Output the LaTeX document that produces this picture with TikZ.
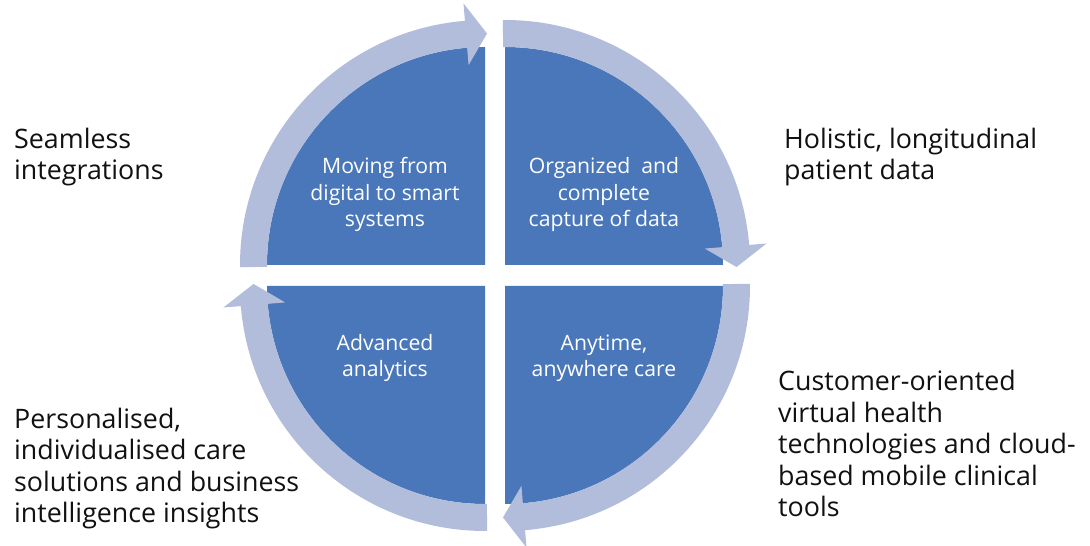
\documentclass[tikz,border=0pt]{standalone}
\usepackage{fontspec}
\setmainfont{Open Sans}
\usetikzlibrary{calc}
\definecolor{quadc}{HTML}{4A77BA}
\definecolor{ringc}{HTML}{B1BDDA}
\definecolor{txtc}{HTML}{111111}
\newcommand\ringarrow[2]{%
  \fill[ringc] ($(#1)+(#2+0.5:245)$) arc[start angle=#2+0.5, end angle=#2-85.3, radius=245]
    -- ($(#1)+(#2-85.3:262.5)$) -- ($(#1)+(#2-90.5:231.5)$) -- ($(#1)+(#2-85.3:200.5)$)
    -- ($(#1)+(#2-85.3:218)$) arc[start angle=#2-85.3, end angle=#2+0.5, radius=218] -- cycle;}
\begin{document}
\begin{tikzpicture}[x=1pt,y=1pt,
  outer/.style={inner sep=0pt, anchor=base west, align=left, text=txtc,
    font={\fontsize{26.8}{31.5}\selectfont}},
  inner/.style={inner sep=0pt, anchor=base, align=center, text=white,
    font={\fontsize{21.2}{26.5}\selectfont}}]
\useasboundingbox (0,0) rectangle (1090,546);
\fill[white] (0,0) rectangle (1090,546);
\coordinate (tl) at (485,281);
\coordinate (tr) at (505,281);
\coordinate (bl) at (485,260);
\coordinate (br) at (505,260);
% quadrants
\fill[quadc] (tl) -- ++(180:218) arc[start angle=180, end angle=90, radius=218] -- cycle;
\fill[quadc] (tr) -- ++(90:218) arc[start angle=90, end angle=0, radius=218] -- cycle;
\fill[quadc] (br) -- ++(0:218) arc[start angle=0, end angle=-90, radius=218] -- cycle;
\fill[quadc] (bl) -- ++(270:218) arc[start angle=270, end angle=180, radius=218] -- cycle;
% ring arrows
\ringarrow{tl}{180}
\ringarrow{tr}{90}
\ringarrow{br}{0}
\ringarrow{bl}{270}
% inner texts (anchor = baseline of last line)
\node[inner] (q1) at (385,319) {Moving from\\digital to smart\\systems};
\node[inner] (q2) at (604,319) {Organized\ \ and\\complete\\capture of data};
\node[inner] (q3) at (385,169) {Advanced\\analytics};
\node[inner] (q4) at (604,169) {Anytime,\\anywhere care};
% outer texts
\node[outer] (t1) at (14,366) {Seamless\\integrations};
\node[outer] (t2) at (784,366) {Holistic, longitudinal\\patient data};
\node[outer] (t3) at (14,23) {Personalised,\\individualised care\\solutions and business\\intelligence insights};
\node[outer] (t4) at (778,29) {Customer-oriented\\virtual health\\technologies and cloud-\\based mobile clinical\\tools};
\end{tikzpicture}
\end{document}
